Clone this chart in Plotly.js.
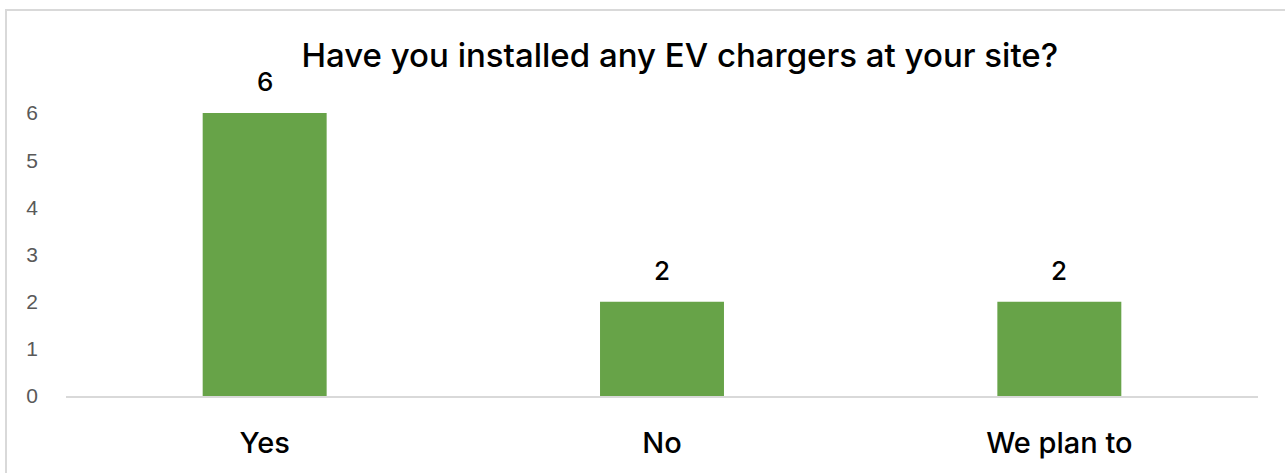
<!DOCTYPE html>
<html>
<head>
<meta charset="utf-8">
<script src="https://cdn.plot.ly/plotly-3.0.1.min.js"></script>
<style>
  html, body { margin: 0; padding: 0; background: #fff; }
  #wrap { position: relative; width: 1285px; height: 473px; overflow: hidden; }
  #chart { position: absolute; left: 0; top: 0; width: 1285px; height: 473px; }
  #frame { position: absolute; left: 5px; top: 9px; width: 1300px; height: 500px;
           border: 2px solid #d9d9d9; pointer-events: none; }
</style>
</head>
<body>
<div id="wrap">
  <div id="chart"></div>
  <div id="frame"></div>
</div>
<script>
const categories = ["Yes", "No", "We plan to"];
const counts = [6, 2, 2];
const yTicks = [0, 1, 2, 3, 4, 5, 6];
const chartTitle = "Have you installed any EV chargers at your site?";

const barColor = "#67a348";
const mainFont = "Inter, 'Open Sans', sans-serif";

const trace = {
  type: "bar",
  x: categories,
  y: counts,
  marker: { color: barColor, line: { width: 0 } },
  hoverinfo: "skip"
};

const annotations = categories.map((c, i) => ({
  x: c, y: counts[i], xref: "x", yref: "y",
  text: String(counts[i]),
  showarrow: false,
  yanchor: "bottom",
  yshift: 14,
  font: { family: mainFont, size: 26, color: "#000", weight: 500 }
}));

const layout = {
  width: 1285, height: 473,
  margin: { l: 66, r: 27, t: 113, b: 77 },
  paper_bgcolor: "rgba(0,0,0,0)",
  plot_bgcolor: "rgba(0,0,0,0)",
  showlegend: false,
  bargap: 0.688,
  title: {
    text: chartTitle,
    font: { family: mainFont, size: 33, color: "#000", weight: 500 },
    xref: "container", x: 0.529, xanchor: "center",
    yref: "container", y: 1 - 55 / 473, yanchor: "middle"
  },
  xaxis: {
    type: "category",
    showgrid: false,
    showline: true, linecolor: "#d9d9d9", linewidth: 2,
    ticks: "", zeroline: false,
    ticklabelstandoff: 20,
    tickfont: { family: mainFont, size: 29, color: "#000", weight: 500 }
  },
  yaxis: {
    range: [0, 6],
    tickvals: yTicks,
    ticktext: yTicks.map(String),
    showgrid: false, showline: false, zeroline: false,
    ticks: "",
    ticklabelstandoff: 27,
    tickfont: { family: "'Liberation Sans', Arial, sans-serif", size: 21, color: "#595959" }
  },
  annotations: annotations
};

Plotly.newPlot("chart", [trace], layout, { displayModeBar: false, staticPlot: true });
</script>
</body>
</html>
